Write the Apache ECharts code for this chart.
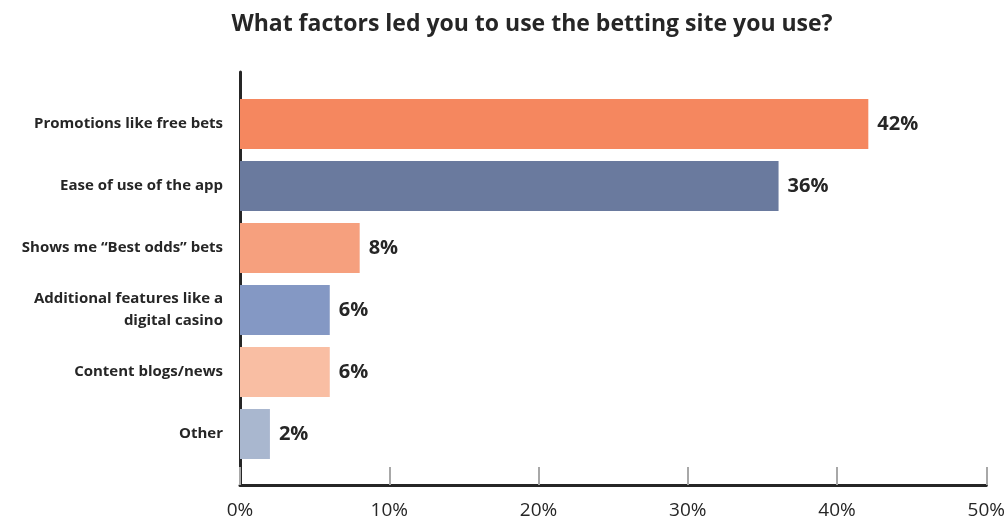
<!DOCTYPE html>
<html>
<head>
<meta charset="utf-8">
<script src="https://cdn.jsdelivr.net/npm/echarts@6/dist/echarts.min.js"></script>
<style>
  html, body { margin: 0; padding: 0; background: #fff; }
  #chart { width: 1008px; height: 523px; }
</style>
</head>
<body>
<div id="chart"></div>
<script>
// data
const categories = [
  "Promotions like free bets",
  "Ease of use of the app",
  "Shows me \u201cBest odds\u201d bets",
  "Additional features like a\ndigital casino",
  "Content blogs/news",
  "Other"
];
const values = [42, 36, 8, 6, 6, 2];
const barColors = ["#F5875F", "#6A7A9E", "#F6A07E", "#8498C4", "#F9BEA3", "#A9B7CF"];

const font = "'Open Sans', Lato, sans-serif";
const ink = "#262626";

const chart = echarts.init(document.getElementById("chart"));
const option = {
  title: {
    text: "What factors led you to use the betting site you use?",
    left: 527,
    textAlign: "center",
    top: 8,
    textStyle: { fontFamily: font, fontSize: 23, fontWeight: "bold", color: ink }
  },
  grid: [
    // bars
    { left: 240, right: 20, top: 93, bottom: 58 },
    // axis frame
    { left: 240, right: 20, top: 72, bottom: 38 }
  ],
  xAxis: [
    { gridIndex: 0, type: "value", min: 0, max: 50, show: false },
    {
      gridIndex: 1, type: "value", min: 0, max: 50, interval: 10,
      axisLine: { show: true, lineStyle: { color: ink, width: 3 } },
      axisTick: { show: true, inside: true, length: 18, lineStyle: { color: "#a8a8a8", width: 2 } },
      splitLine: { show: false },
      axisLabel: {
        formatter: "{value}%", margin: 16,
        fontFamily: font, fontSize: 19, color: ink
      }
    }
  ],
  yAxis: [
    {
      gridIndex: 0, type: "category", data: categories, inverse: true,
      axisLine: { show: false }, axisTick: { show: false },
      axisLabel: {
        margin: 17, fontFamily: font, fontSize: 15, fontWeight: "bold",
        color: ink, lineHeight: 22, align: "right"
      }
    },
    {
      gridIndex: 1, type: "value", min: 0, max: 1,
      axisLine: { show: true, lineStyle: { color: ink, width: 3 } },
      axisTick: { show: false }, axisLabel: { show: false }, splitLine: { show: false }
    }
  ],
  series: [{
    type: "bar",
    xAxisIndex: 0, yAxisIndex: 0,
    barWidth: 50,
    data: values.map((v, i) => ({ value: v, itemStyle: { color: barColors[i] } })),
    label: {
      show: true, position: "right", distance: 9,
      formatter: "{c}%",
      fontFamily: font, fontSize: 20, fontWeight: "bold", color: ink
    },
    silent: true
  }],
  animation: false
};
chart.setOption(option);
</script>
</body>
</html>
